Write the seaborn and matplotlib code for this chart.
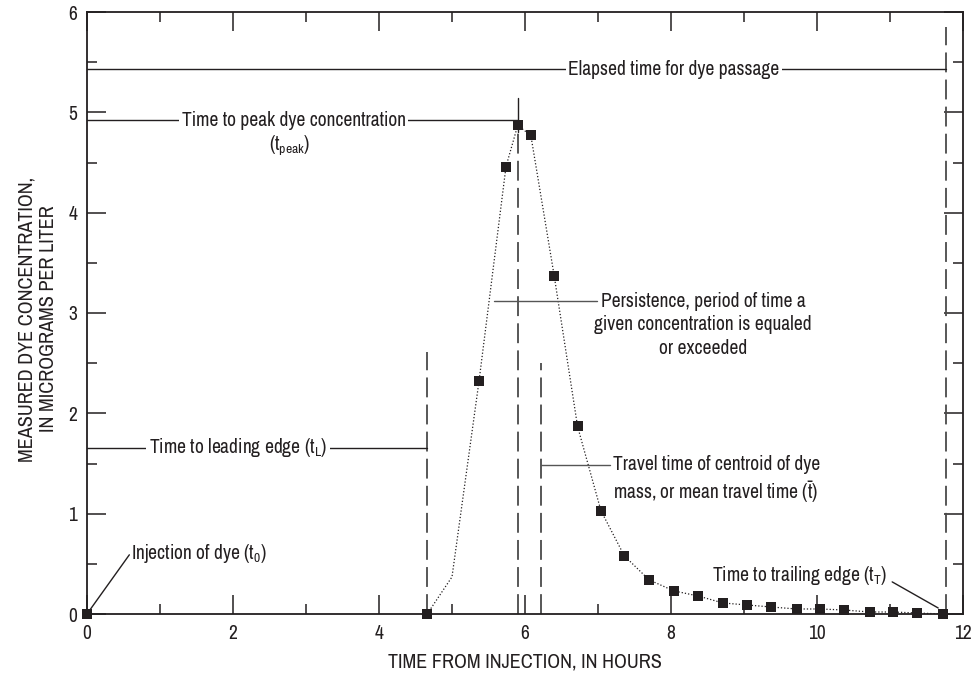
import matplotlib
matplotlib.use('Agg')
import matplotlib.pyplot as plt
from matplotlib import font_manager
import seaborn as sns
import pandas as pd

# measured dye concentrations (hours, micrograms per liter)
hours = [0.0, 4.66, 5.37, 5.74, 5.90, 6.08, 6.40, 6.72, 7.04, 7.36, 7.70, 8.04,
         8.37, 8.71, 9.04, 9.37, 9.72, 10.04, 10.37, 10.72, 11.04, 11.37, 11.72]
conc = [0.0, 0.0, 2.32, 4.46, 4.87, 4.77, 3.37, 1.87, 1.03, 0.58, 0.34, 0.23,
        0.18, 0.11, 0.09, 0.07, 0.05, 0.05, 0.04, 0.02, 0.02, 0.01, 0.0]

# dotted curve drawn through the samples (one bend at 5 h with no marker)
curve_hours = [4.66, 5.0, 5.37, 5.74, 5.90, 6.08, 6.40, 6.72, 7.04, 7.36, 7.70, 8.04,
               8.37, 8.71, 9.04, 9.37, 9.72, 10.04, 10.37, 10.72, 11.04, 11.37, 11.72]
curve_conc = [0.0, 0.37, 2.32, 4.46, 4.87, 4.77, 3.37, 1.87, 1.03, 0.58, 0.34, 0.23,
              0.18, 0.11, 0.09, 0.07, 0.05, 0.05, 0.04, 0.02, 0.02, 0.01, 0.0]

# characteristic times, hours
t_0 = 0.0
t_lead = 4.66
t_peak = 5.90
t_bar = 6.22
t_trail = 11.77

df = pd.DataFrame({'Hours': hours, 'Conc': conc})
curve = pd.DataFrame({'Hours': curve_hours, 'Conc': curve_conc})

sns.set_style('ticks')

# the original uses a condensed face; take one if there is any
names = sorted({f.name for f in font_manager.fontManager.ttflist})
narrow = [n for n in names if 'Narrow' in n or 'Condensed' in n]
base = narrow[0] if narrow else 'Roboto'
fs = 14 if narrow else 12

plt.rcParams['font.family'] = [base, 'DejaVu Sans']
plt.rcParams['font.stretch'] = 'condensed'
plt.rcParams['mathtext.fontset'] = 'custom'
plt.rcParams['mathtext.rm'] = base
plt.rcParams['mathtext.it'] = base

ink = '#231f20'

fig = plt.figure(figsize=(9.8, 6.76), dpi=100)
ax = fig.add_axes([87 / 980, 62 / 676, 876 / 980, 602 / 676])

sns.lineplot(data=curve, x='Hours', y='Conc', ax=ax, color=ink, lw=0.9,
             linestyle=(0, (1, 1.6)), sort=False)
sns.scatterplot(data=df, x='Hours', y='Conc', ax=ax, marker='s', s=48,
                color=ink, edgecolor=ink, linewidth=0, zorder=5, clip_on=False)

ax.set_xlim(0, 12)
ax.set_ylim(0, 6)
ax.set_xticks(range(0, 13, 2))
ax.set_xticks(range(0, 13), minor=True)
ax.set_yticks(range(0, 7))
ax.set_yticks([i * 0.5 for i in range(13)], minor=True)
ax.tick_params(which='both', direction='in', top=True, right=True, colors=ink,
               labelsize=fs, width=1.1)
ax.tick_params(which='major', length=14, pad=7)
ax.tick_params(which='minor', length=7)
for sp in ax.spines.values():
    sp.set_visible(True)
    sp.set_color(ink)
    sp.set_linewidth(1.3)

ax.set_xlabel('TIME FROM INJECTION, IN HOURS', fontsize=fs + 0.5, color=ink, labelpad=7)
ax.set_ylabel('MEASURED DYE CONCENTRATION,\nIN MICROGRAMS PER LITER', fontsize=fs + 0.5,
              color=ink, linespacing=1.15)
ax.yaxis.set_label_coords(-0.033, 0.49)

dash = dict(color='#4a4a4a', lw=1.3, dashes=(11, 4))
ax.plot([t_lead, t_lead], [0, 2.61], **dash)
ax.plot([t_peak, t_peak], [0, 4.8], **dash)
ax.plot([t_peak, t_peak], [4.8, 5.14], color=ink, lw=1.0)
ax.plot([t_bar, t_bar], [0, 2.5], **dash)
ax.plot([t_trail, t_trail], [0, 5.85], **dash)

thin = dict(color=ink, lw=1.0)
box = dict(fc='white', ec='none', pad=2)
ax.plot([0, t_trail], [5.43, 5.43], **thin)
ax.text(8.04, 5.43, 'Elapsed time for dye passage', ha='center', va='center',
        fontsize=fs, color=ink, bbox=box)
ax.plot([0, t_peak], [4.92, 4.92], **thin)
ax.text(2.83, 4.92, 'Time to peak dye concentration', ha='center', va='center',
        fontsize=fs, color=ink, bbox=box)
ax.text(2.78, 4.67, r'(t$_{\mathrm{peak}}$)', ha='center', va='center',
        fontsize=fs, color=ink)
ax.plot([0, t_lead], [1.655, 1.655], **thin)
ax.text(2.07, 1.655, r'Time to leading edge (t$_{\mathrm{L}}$)', ha='center',
        va='center', fontsize=fs, color=ink, bbox=box)

ax.plot([5.57, 6.98], [3.12, 3.12], color='#555555', lw=1.0)
ax.text(8.44, 3.21, 'Persistence, period of time a\ngiven concentration is equaled\nor exceeded',
        ha='center', va='top', fontsize=fs, color=ink, linespacing=1.3)

ax.plot([t_bar, 7.17], [1.49, 1.49], color='#555555', lw=1.0)
ax.text(7.2, 1.58, 'Travel time of centroid of dye\nmass, or mean travel time ($\\mathrm{\\bar{t}}$)',
        ha='left', va='top', fontsize=fs, color=ink, linespacing=1.25)

ax.plot([t_0, 0.58], [0, 0.59], **thin)
ax.text(0.6, 0.6, r'Injection of dye (t$_{\mathrm{0}}$)', ha='left', va='center',
        fontsize=fs, color=ink)

ax.plot([11.03, 11.66], [0.32, 0.06], **thin)
ax.text(10.97, 0.38, r'Time to trailing edge (t$_{\mathrm{T}}$)', ha='right',
        va='center', fontsize=fs, color=ink)

fig.savefig('out.png', dpi=100)
plt.close(fig)
